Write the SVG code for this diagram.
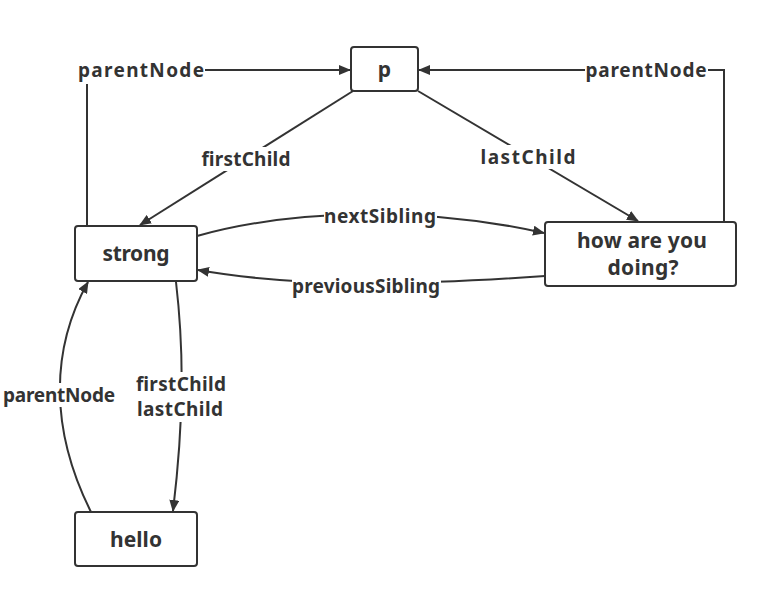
<svg xmlns="http://www.w3.org/2000/svg" width="768" height="598" viewBox="0 0 768 598">
<defs>
<marker id="ah" viewBox="0 0 12 10" refX="11" refY="5" markerWidth="12" markerHeight="10" markerUnits="userSpaceOnUse" orient="auto">
<path d="M0,0 L12,5 L0,10 Z" fill="#333"/>
</marker>
<style>
.box{fill:#fff;stroke:#333;stroke-width:2}
.nt{font-family:"Noto Sans","Open Sans","Liberation Sans",sans-serif;font-weight:bold;font-size:21px;fill:#333;text-anchor:middle}
.e{fill:none;stroke:#333;stroke-width:2}
.a{marker-end:url(#ah)}
.lb{font-family:"Noto Sans","Open Sans","Liberation Sans",sans-serif;font-weight:bold;font-size:19px;fill:#333;text-anchor:middle}
.bg{fill:#fff}
</style>
</defs>
<rect width="768" height="598" fill="#fff"/>
<g id="connectors">
<polyline class="e a" points="87,226 87,70 350,70"/>
<polyline class="e a" points="724,222 724,70 419,70"/>
<line class="e a" x1="353" y1="91" x2="140" y2="225"/>
<line class="e a" x1="418" y1="91" x2="638" y2="221"/>
<path class="e a" d="M197,236 C290,210 420,205 544,233"/>
<path class="e a" d="M545,276 C420,285 300,288 198,270"/>
<path class="e a" d="M176,282 C184,350 184,420 173,511"/>
<path class="e a" d="M91,512 C50,430 50,350 88,282"/>
<rect class="bg" x="77" y="58" width="128" height="26"/>
<rect class="bg" x="585" y="58" width="123" height="26"/>
<rect class="bg" x="201" y="147" width="90" height="24"/>
<rect class="bg" x="480" y="145" width="96" height="24"/>
<rect class="bg" x="324" y="204" width="113" height="24"/>
<rect class="bg" x="292" y="274" width="149" height="24"/>
<rect class="bg" x="136" y="372" width="91" height="50"/>
<rect class="bg" x="3" y="383" width="112" height="24"/>
<text class="lb" x="141" y="77" textLength="126">parentNode</text>
<text class="lb" x="646" y="77" textLength="121">parentNode</text>
<text class="lb" x="246" y="166" textLength="89">firstChild</text>
<text class="lb" x="528" y="164" textLength="95">lastChild</text>
<text class="lb" x="380" y="223" textLength="112">nextSibling</text>
<text class="lb" x="366" y="293" textLength="148">previousSibling</text>
<text class="lb" x="181" y="391" textLength="90">firstChild</text>
<text class="lb" x="180" y="416" textLength="86">lastChild</text>
<text class="lb" x="59" y="402" textLength="112">parentNode</text>
</g>
<g id="node-p">
<rect class="box" x="351" y="47" width="67" height="44" rx="3"/>
<text class="nt" x="384.5" y="77">p</text>
</g>
<g id="node-strong">
<rect class="box" x="75" y="226" width="122" height="55" rx="3"/>
<text class="nt" x="136" y="261" textLength="67">strong</text>
</g>
<g id="node-how">
<rect class="box" x="545" y="222" width="191" height="64" rx="3"/>
<text class="nt" x="642" y="248" textLength="130">how are you</text>
<text class="nt" x="643" y="275" textLength="71">doing?</text>
</g>
<g id="node-hello">
<rect class="box" x="75" y="512" width="122" height="54" rx="3"/>
<text class="nt" x="136" y="547" textLength="52">hello</text>
</g>
</svg>
